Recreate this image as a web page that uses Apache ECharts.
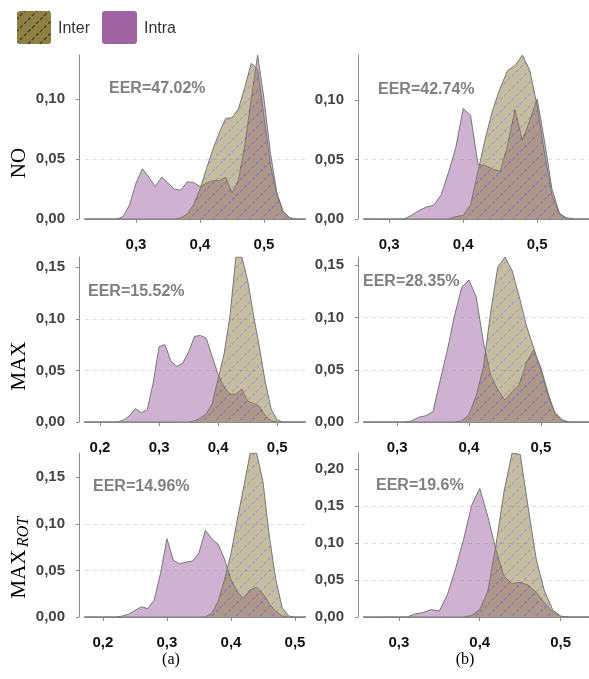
<!DOCTYPE html>
<html><head><meta charset="utf-8">
<script src="https://cdn.jsdelivr.net/npm/echarts@6/dist/echarts.min.js"></script>
<style>html,body{margin:0;padding:0;background:#fff}#c{width:589px;height:679px}</style>
</head><body><div id="c"></div>
<script>
// shared x grid (score values)
const X = [0.17,0.18,0.19,0.20,0.21,0.22,0.23,0.24,0.25,0.26,0.27,0.28,0.29,0.30,0.31,0.32,0.33,0.34,0.35,0.36,0.37,0.38,0.39,0.40,0.41,0.42,0.43,0.44,0.45,0.46,0.47,0.48,0.49,0.50,0.51,0.52,0.53,0.54,0.55,0.56,0.57];

const intraNOa = [0,0,0,0,0,0,0,0,0,0,0, 0.002,0.012,0.030,0.042,0.035,0.027,0.035,0.030,0.025,0.024,0.031,0.0305,0.027,0.030,0.032,0.032,0.035,0.022,0.032,0.062,0.100,0.137,0.100,0.055,0.022,0.006,0.001, 0,0,0];
const interNOa = [0,0,0,0,0,0,0,0,0,0,0,0,0,0,0,0,0,0,0,0, 0.001,0.004,0.012,0.025,0.042,0.058,0.072,0.084,0.0845,0.092,0.110,0.130,0.125,0.085,0.045,0.020,0.006,0.001, 0,0,0];
const intraNOb = [0,0,0,0,0,0,0,0,0,0,0,0,0,0,0,0, 0.003,0.007,0.010,0.0115,0.020,0.039,0.060,0.093,0.087,0.046,0.045,0.042,0.040,0.062,0.092,0.066,0.083,0.101,0.065,0.025,0.005, 0,0,0,0];
const interNOb = [0,0,0,0,0,0,0,0,0,0,0,0,0,0,0,0,0,0,0,0,0,0, 0.002,0.003,0.012,0.040,0.068,0.092,0.110,0.125,0.129,0.138,0.125,0.095,0.055,0.020,0.004,0.001, 0,0,0];
const intraMAXa = [0,0,0,0,0,0,0, 0.002,0.006,0.013,0.009,0.012,0.038,0.073,0.075,0.059,0.054,0.057,0.068,0.083,0.084,0.081,0.063,0.046,0.034,0.027,0.027,0.032,0.020,0.018,0.015,0.006,0.001, 0,0,0,0,0,0,0,0];
const interMAXa = [0,0,0,0,0,0,0,0,0,0,0,0,0,0,0,0,0,0,0, 0.001,0.004,0.008,0.018,0.042,0.066,0.103,0.160,0.160,0.137,0.103,0.072,0.038,0.012,0.002, 0,0,0,0,0,0,0];
const intraMAXb = [0,0,0,0,0,0,0,0,0,0,0,0,0,0,0, 0.001,0.0045,0.006,0.010,0.040,0.069,0.102,0.129,0.136,0.120,0.077,0.045,0.031,0.021,0.029,0.036,0.057,0.069,0.052,0.028,0.007,0.001, 0,0,0,0];
const interMAXb = [0,0,0,0,0,0,0,0,0,0,0,0,0,0,0,0,0,0,0,0,0,0, 0.001,0.007,0.025,0.052,0.104,0.148,0.158,0.145,0.120,0.092,0.071,0.050,0.025,0.009,0.002, 0,0,0,0];
const intraROTa = [0,0,0,0,0,0, 0.001,0.003,0.007,0.011,0.009,0.018,0.047,0.084,0.061,0.057,0.059,0.060,0.069,0.093,0.084,0.078,0.062,0.040,0.027,0.020,0.029,0.032,0.025,0.014,0.006,0.001, 0,0,0,0,0,0,0,0,0];
const interROTa = [0,0,0,0,0,0,0,0,0,0,0,0,0,0,0,0,0,0,0,0, 0.004,0.017,0.040,0.068,0.105,0.140,0.176,0.176,0.145,0.086,0.040,0.010,0.001, 0,0,0,0,0,0,0,0];
const intraROTb = [0,0,0,0,0,0,0,0,0,0,0,0,0,0,0, 0.004,0.006,0.010,0.008,0.030,0.065,0.105,0.151,0.174,0.136,0.091,0.055,0.045,0.047,0.043,0.033,0.019,0.007,0.001, 0,0,0,0,0,0,0];
const interROTb = [0,0,0,0,0,0,0,0,0,0,0,0,0,0,0,0,0,0,0,0,0,0, 0.002,0.010,0.035,0.097,0.170,0.222,0.220,0.147,0.077,0.035,0.010,0.001, 0,0,0,0,0,0,0];

const intraSets = [intraNOa, intraNOb, intraMAXa, intraMAXb, intraROTa, intraROTb];
const interSets = [interNOa, interNOb, interMAXa, interMAXb, interROTa, interROTb];
const eerLabels = ['EER=47.02%','EER=42.74%','EER=15.52%','EER=28.35%','EER=14.96%','EER=19.6%'];
const xTicks = [[0.3,0.4,0.5],[0.3,0.4,0.5],[0.2,0.3,0.4,0.5],[0.3,0.4,0.5],[0.2,0.3,0.4,0.5],[0.3,0.4,0.5]];
const yTicks = [[0,0.05,0.10],[0,0.05,0.10],[0,0.05,0.10,0.15],[0,0.05,0.10,0.15],[0,0.05,0.10,0.15],[0,0.05,0.10,0.15,0.20]];
const xRange = [[0.2203,0.564],[0.266,0.570],[0.1746,0.547],[0.254,0.567],[0.172,0.5156],[0.257,0.535]];
const rowLabels = ['NO','MAX','MAX'];
const legendNames = ['Inter','Intra'];
const captions = ['(a)','(b)'];

// layout
const colLeft = [85, 364], colWidth = [220, 225];
const rowTop = [55, 257, 453], rowHeight = [164, 165, 164];
const eerPos = [[109,89],[378,90],[88,292],[363,282],[93,487],[376,486]];

const SANS = 'Liberation Sans';
const SERIF = 'Liberation Serif';
const INTER = '#8f7f40', INTRA = '#a064a5';

function hatch(bg, line, size) {
  const c = document.createElement('canvas');
  c.width = size; c.height = size;
  const g = c.getContext('2d');
  g.fillStyle = bg; g.fillRect(0, 0, size, size);
  g.strokeStyle = line; g.lineWidth = 1.3;
  const L = size * Math.SQRT2; const p = L / 3;
  g.setLineDash([p * 0.65, p * 0.35]);
  g.beginPath(); g.moveTo(0, size); g.lineTo(size, 0); g.stroke();
  return c;
}
const plotPat = hatch(INTER, '#4040b0', 12);
const legPat = hatch(INTER, '#3c3c3c', 12);

const fmt = d => v => v.toFixed(d).replace('.', ',');
const grid = [], xAxis = [], yAxis = [], series = [], graphic = [];
for (let i = 0; i < 6; i++) {
  const r = Math.floor(i / 2), c = i % 2;
  grid.push({left: colLeft[c], width: colWidth[c], top: rowTop[r], height: rowHeight[r]});
  xAxis.push({
    type: 'value', gridIndex: i, min: xRange[i][0], max: xRange[i][1], offset: 8,
    axisLine: {show: true, lineStyle: {color: '#8c8c8c', width: 1}},
    axisTick: {show: true, length: 4, customValues: xTicks[i], lineStyle: {color: '#8c8c8c'}},
    axisLabel: {customValues: xTicks[i], formatter: fmt(1), margin: 10, fontSize: 15, fontWeight: 'bold', fontFamily: SANS, color: '#111'},
    splitLine: {show: false}
  });
  const ymax = Math.max(...intraSets[i], ...interSets[i]);
  yAxis.push({
    type: 'value', gridIndex: i, min: 0, max: ymax, interval: 0.05, offset: 6,
    axisLine: {show: true, lineStyle: {color: '#8c8c8c', width: 1}},
    axisTick: {show: true, length: 3, customValues: yTicks[i], lineStyle: {color: '#8c8c8c'}},
    axisLabel: {customValues: yTicks[i], formatter: fmt(2), margin: 14, fontSize: 15, fontWeight: 'bold', fontFamily: SANS, color: '#444'},
    splitLine: {show: true, showMaxLine: false, lineStyle: {type: [4, 4], color: '#dddddd', width: 1}}
  });
  series.push({
    type: 'line', xAxisIndex: i, yAxisIndex: i, name: 'Intra', symbol: 'none', silent: true,
    data: X.map((x, k) => [x, intraSets[i][k]]),
    lineStyle: {color: '#777777', width: 1},
    areaStyle: {color: INTRA, opacity: 0.5}, z: 2
  });
  series.push({
    type: 'line', xAxisIndex: i, yAxisIndex: i, name: 'Inter', symbol: 'none', silent: true,
    data: X.map((x, k) => [x, interSets[i][k]]),
    lineStyle: {color: '#777777', width: 1},
    areaStyle: {color: {image: plotPat, repeat: 'repeat'}, opacity: 0.5}, z: 3
  });
  graphic.push({type: 'text', x: eerPos[i][0], y: eerPos[i][1], z: 10,
    style: {text: eerLabels[i], font: 'bold 16px ' + SANS, fill: '#808080', align: 'left', verticalAlign: 'middle'}});
}
// row labels
graphic.push({type: 'text', x: 19, y: 163, rotation: Math.PI / 2,
  style: {text: rowLabels[0], font: '21px ' + SERIF, fill: '#000', align: 'center', verticalAlign: 'middle'}});
graphic.push({type: 'text', x: 19, y: 366, rotation: Math.PI / 2,
  style: {text: rowLabels[1], font: '21px ' + SERIF, fill: '#000', align: 'center', verticalAlign: 'middle'}});
graphic.push({type: 'text', x: 19, y: 574, rotation: Math.PI / 2,
  style: {text: rowLabels[2], font: '21px ' + SERIF, fill: '#000', align: 'center', verticalAlign: 'middle'}});
graphic.push({type: 'text', x: 24, y: 532, rotation: Math.PI / 2,
  style: {text: 'ROT', font: 'italic 16px ' + SERIF, fill: '#000', align: 'center', verticalAlign: 'middle'}});
// captions
graphic.push({type: 'text', x: 171, y: 660, style: {text: captions[0], font: '16px ' + SERIF, fill: '#000', align: 'center', verticalAlign: 'middle'}});
graphic.push({type: 'text', x: 465, y: 660, style: {text: captions[1], font: '16px ' + SERIF, fill: '#000', align: 'center', verticalAlign: 'middle'}});
// legend
graphic.push({type: 'rect', shape: {x: 17, y: 11, width: 34, height: 33, r: 3}, style: {fill: {image: legPat, repeat: 'repeat'}}});
graphic.push({type: 'text', x: 58, y: 29, style: {text: legendNames[0], font: '16px ' + SANS, fill: '#333', align: 'left', verticalAlign: 'middle'}});
graphic.push({type: 'rect', shape: {x: 102, y: 11, width: 35, height: 33, r: 3}, style: {fill: INTRA}});
graphic.push({type: 'text', x: 144, y: 29, style: {text: legendNames[1], font: '16px ' + SANS, fill: '#333', align: 'left', verticalAlign: 'middle'}});

const chart = echarts.init(document.getElementById('c'), null, {renderer: 'canvas'});
chart.setOption({backgroundColor: '#fff', animation: false, grid, xAxis, yAxis, series, graphic});
</script></body></html>
